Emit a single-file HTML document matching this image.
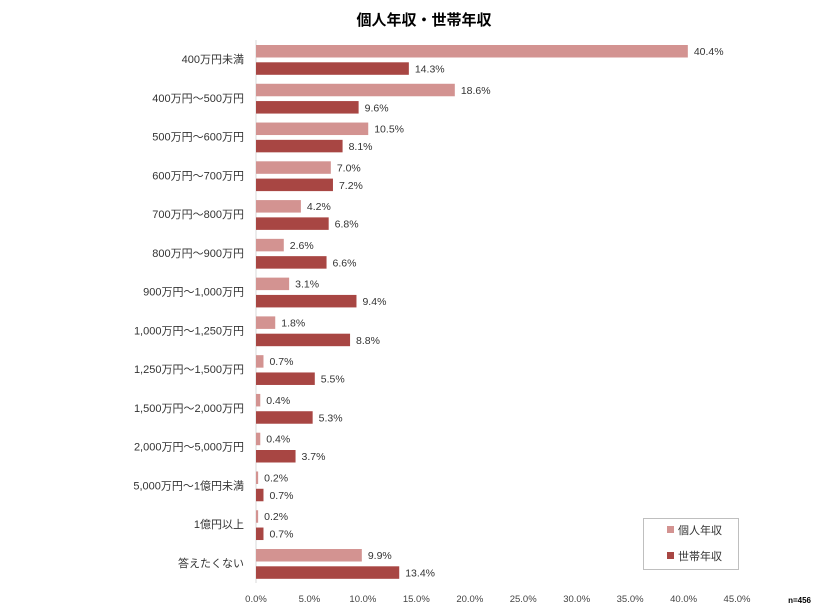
<!DOCTYPE html>
<html><head><meta charset="utf-8"><style>
body{margin:0;background:#fff}
svg{display:block;font-family:"Liberation Sans","Noto Sans CJK JP",sans-serif}
</style></head><body>
<svg width="838" height="613" xmlns="http://www.w3.org/2000/svg">
<text x="424" y="25" text-anchor="middle" font-size="15" font-weight="bold" fill="#000">個人年収・世帯年収</text>
<line x1="256" y1="40" x2="256" y2="583" stroke="#d9d9d9" stroke-width="1"/>
<g id="bars" font-size="10.5" fill="#333"></g>
<g font-size="9.5" fill="#444" text-anchor="middle">
<text x="256" y="602">0.0%</text><text x="309.4" y="602">5.0%</text><text x="362.9" y="602">10.0%</text><text x="416.3" y="602">15.0%</text><text x="469.8" y="602">20.0%</text><text x="523.2" y="602">25.0%</text><text x="576.7" y="602">30.0%</text><text x="630.1" y="602">35.0%</text><text x="683.6" y="602">40.0%</text><text x="737" y="602">45.0%</text>
</g>
<text x="811" y="603" font-size="8" font-weight="bold" text-anchor="end" fill="#000">n=456</text>
<rect x="643.5" y="518.5" width="95" height="51" fill="#fff" stroke="#bfbfbf"/>
<rect x="667" y="526" width="7" height="7" fill="#d39391"/>
<text x="678" y="534" font-size="11" fill="#333">個人年収</text>
<rect x="667" y="552" width="7" height="7" fill="#a84643"/>
<text x="678" y="560" font-size="11" fill="#333">世帯年収</text>
</svg>
<script>
var d=[["400万円未満",40.4,14.3],["400万円～500万円",18.6,9.6],["500万円～600万円",10.5,8.1],["600万円～700万円",7.0,7.2],["700万円～800万円",4.2,6.8],["800万円～900万円",2.6,6.6],["900万円～1,000万円",3.1,9.4],["1,000万円～1,250万円",1.8,8.8],["1,250万円～1,500万円",0.7,5.5],["1,500万円～2,000万円",0.4,5.3],["2,000万円～5,000万円",0.4,3.7],["5,000万円～1億円未満",0.2,0.7],["1億円以上",0.2,0.7],["答えたくない",9.9,13.4]];
var g=document.getElementById('bars'),s='',k=481/45;
d.forEach(function(r,i){var y=45+i*38.77;
s+='<text x="244" y="'+(y+18)+'" text-anchor="end" font-size="11" fill="#333">'+r[0]+'</text>';
var w1=r[1]*k,w2=r[2]*k;
s+='<rect x="256" y="'+y+'" width="'+w1+'" height="12.5" fill="#d39391"/>';
s+='<rect x="256" y="'+(y+17.3)+'" width="'+w2+'" height="12.5" fill="#a84643"/>';
s+='<text x="'+(256+w1+6)+'" y="'+(y+10)+'">'+r[1].toFixed(1)+'%</text>';
s+='<text x="'+(256+w2+6)+'" y="'+(y+27.5)+'">'+r[2].toFixed(1)+'%</text>';});
g.innerHTML=s;
</script>
</body></html>
